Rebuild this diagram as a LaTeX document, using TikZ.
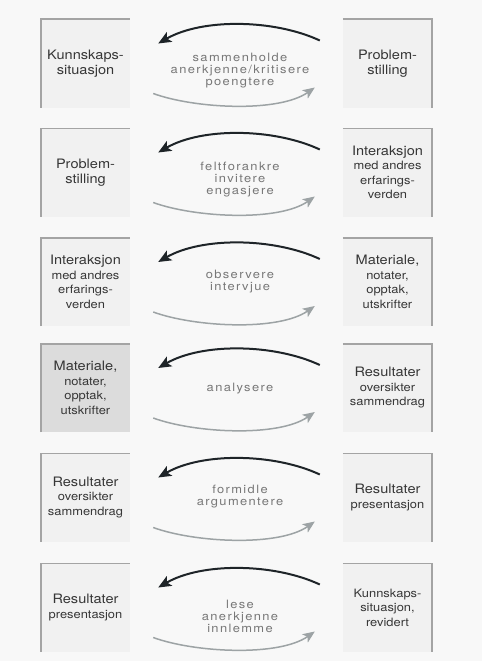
\documentclass[tikz,border=0pt]{standalone}
\usepackage{fontspec}
\setmainfont{TeX Gyre Heros}[FakeStretch=1.12]
\newfontfamily\midfont{TeX Gyre Heros}[FakeStretch=1.12,LetterSpace=12]
\usepackage{tikz}
\usetikzlibrary{arrows.meta,calc}

\definecolor{paper}{HTML}{F8F8F8}
\definecolor{boxfill}{HTML}{F1F1F1}
\definecolor{boxdark}{HTML}{DCDCDC}
\definecolor{boxline}{HTML}{A4A4A4}
\definecolor{boxtext}{HTML}{363636}
\definecolor{midtext}{HTML}{777777}
\definecolor{toparrow}{HTML}{1E2428}
\definecolor{botarrow}{HTML}{9DA3A5}

\newcommand\bigtxt{\fontsize{13}{14.5}\selectfont}
\newcommand\sm[1]{{\fontsize{11.5}{13}\selectfont #1}}

\tikzset{
  box/.style={minimum width=89pt,minimum height=88pt,inner sep=0pt,fill=boxfill,
    align=center,text=boxtext,font=\bigtxt},
  verb/.style={align=center,text=midtext,font=\midfont\fontsize{11.5}{12}\selectfont},
  edge/.style={draw=boxline,line width=1.6pt},
  back/.style={draw=toparrow,line width=2pt,-{Stealth[length=13pt,width=11pt,inset=3pt]}},
  forth/.style={draw=botarrow,line width=1.5pt,-{Stealth[length=12pt,width=10pt,inset=3pt]}}
}

\begin{document}
\begin{tikzpicture}[x=1pt,y=1pt]
        \fill[paper] (0,0) rectangle (482,-661);
        \useasboundingbox (0,0) rectangle (482,-661);

        % left column
        \node[box] (l1) at (85.5,-63.5) {Kunnskaps-\\situasjon};
        \node[box] (l2) at (85.5,-172.5) {Problem-\\stilling};
        \node[box] (l3) at (85.5,-282) {Interaksjon\\\sm{med andres}\\\sm{erfarings-}\\\sm{verden}};
        \node[box,fill=boxdark] (l4) at (85.5,-388) {Materiale,\\\sm{notater,}\\\sm{opptak,}\\\sm{utskrifter}};
        \node[box] (l5) at (85.5,-497.5) {Resultater\\\sm{oversikter}\\\sm{sammendrag}};
        \node[box] (l6) at (85.5,-607.5) {Resultater\\\sm{presentasjon}};

        % right column
        \node[box] (r1) at (387.5,-63.5) {Problem-\\stilling};
        \node[box] (r2) at (387.5,-172.5) {Interaksjon\\\sm{med andres}\\\sm{erfarings-}\\\sm{verden}};
        \node[box] (r3) at (387.5,-282) {Materiale,\\\sm{notater,}\\\sm{opptak,}\\\sm{utskrifter}};
        \node[box] (r4) at (387.5,-388) {Resultater\\\sm{oversikter}\\\sm{sammendrag}};
        \node[box] (r5) at (387.5,-497.5) {Resultater\\\sm{presentasjon}};
        \node[box] (r6) at (387.5,-607.5) {\sm{Kunnskaps-}\\\sm{situasjon,}\\\sm{revidert}};

        % verbs
        \node[verb] (m1) at (240,-71) {sammenholde\\anerkjenne/kritisere\\poengtere};
        \node[verb] (m2) at (240,-180) {feltforankre\\invitere\\engasjere};
        \node[verb] (m3) at (240,-282) {observere\\intervjue};
        \node[verb] (m4) at (240,-389) {analysere};
        \node[verb] (m5) at (240,-497) {formidle\\argumentere};
        \node[verb] (m6) at (240,-616) {lese\\anerkjenne\\innlemme};

        % box edges
        \draw[edge] (l1.south west) -- (l1.north west) -- (l1.north east);
        \draw[edge] (l2.south west) -- (l2.north west) -- (l2.north east);
        \draw[edge] (l3.south west) -- (l3.north west) -- (l3.north east);
        \draw[edge] (l4.south west) -- (l4.north west) -- (l4.north east);
        \draw[edge] (l5.south west) -- (l5.north west) -- (l5.north east);
        \draw[edge] (l6.south west) -- (l6.north west) -- (l6.north east);
        \draw[edge] (r1.north west) -- (r1.north east) -- (r1.south east);
        \draw[edge] (r2.north west) -- (r2.north east) -- (r2.south east);
        \draw[edge] (r3.north west) -- (r3.north east) -- (r3.south east);
        \draw[edge] (r4.north west) -- (r4.north east) -- (r4.south east);
        \draw[edge] (r5.north west) -- (r5.north east) -- (r5.south east);
        \draw[edge] (r6.north west) -- (r6.north east) -- (r6.south east);

        % arrows
        \draw[back] ($(r1.west)+(-23,23)$) to[out=155,in=30,looseness=0.8] ($(l1.east)+(28,20)$);
        \draw[forth] ($(l1.east)+(23,-30)$) to[out=-20,in=-145,looseness=0.7] ($(r1.west)+(-28,-24)$);
        \draw[back] ($(r2.west)+(-23,23)$) to[out=155,in=30,looseness=0.8] ($(l2.east)+(28,20)$);
        \draw[forth] ($(l2.east)+(23,-30)$) to[out=-20,in=-145,looseness=0.7] ($(r2.west)+(-28,-24)$);
        \draw[back] ($(r3.west)+(-23,23)$) to[out=155,in=30,looseness=0.8] ($(l3.east)+(28,20)$);
        \draw[forth] ($(l3.east)+(23,-30)$) to[out=-20,in=-145,looseness=0.7] ($(r3.west)+(-28,-24)$);
        \draw[back] ($(r4.west)+(-23,23)$) to[out=155,in=30,looseness=0.8] ($(l4.east)+(28,20)$);
        \draw[forth] ($(l4.east)+(23,-30)$) to[out=-20,in=-145,looseness=0.7] ($(r4.west)+(-28,-24)$);
        \draw[back] ($(r5.west)+(-23,23)$) to[out=155,in=30,looseness=0.8] ($(l5.east)+(28,20)$);
        \draw[forth] ($(l5.east)+(23,-30)$) to[out=-20,in=-145,looseness=0.7] ($(r5.west)+(-28,-24)$);
        \draw[back] ($(r6.west)+(-23,23)$) to[out=155,in=30,looseness=0.8] ($(l6.east)+(28,20)$);
        \draw[forth] ($(l6.east)+(23,-30)$) to[out=-20,in=-145,looseness=0.7] ($(r6.west)+(-28,-24)$);
    \end{tikzpicture}
\end{document}
